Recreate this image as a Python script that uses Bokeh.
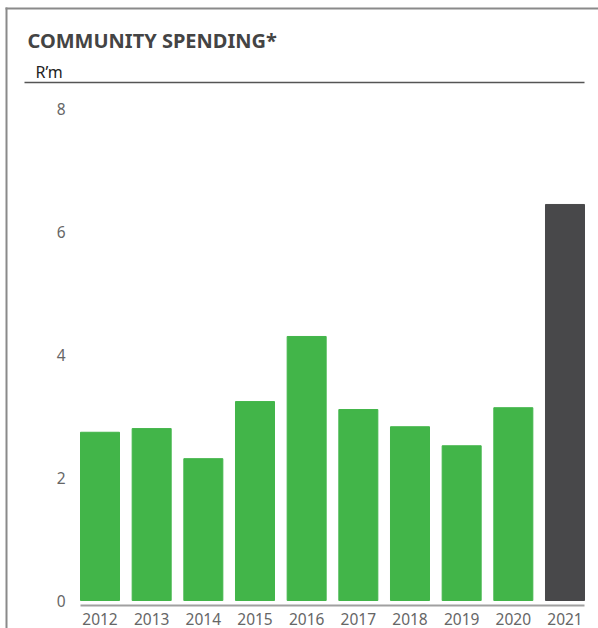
from bokeh.plotting import figure
from bokeh.models import Range1d, ColumnDataSource
from bokeh.core.properties import value
from bokeh.embed import file_html
from bokeh.resources import INLINE

# ---- data ----
years = ["2012", "2013", "2014", "2015", "2016", "2017", "2018", "2019", "2020", "2021"]
spend = [2.74, 2.80, 2.31, 3.24, 4.30, 3.11, 2.83, 2.52, 3.14, 6.45]
y_ticks = [0, 2, 4, 6, 8]
title_text = "COMMUNITY SPENDING*"
unit_text = "R\u2019m"

# ---- style ----
GREEN = "#42b549"
DARK = "#48484a"
FONT = "Noto Sans"
W, H = 598, 628

# ---- canvas geometry (pixels) -> data ranges ----
BAR_W = 0.755
n = len(years)
BARS_LEFT_PX, BARS_RIGHT_PX = 80, 584
ZERO_PX, TOP_TICK_PX = 600, 108.8
ppx = (BARS_RIGHT_PX - BARS_LEFT_PX) / (n - 1 + BAR_W)
ppy = (ZERO_PX - TOP_TICK_PX) / max(y_ticks)
x0 = -BAR_W / 2 - BARS_LEFT_PX / ppx
x1 = x0 + W / ppx
y0 = -(H - ZERO_PX) / ppy
y1 = y0 + H / ppy


def dx(px):
    return x0 + px / ppx


def dy(py):
    return y1 - py / ppy


xs = list(range(n))
colors = [GREEN] * (n - 1) + [DARK]
src = ColumnDataSource(dict(x=xs, top=spend, color=colors, year=years))

p = figure(width=W, height=H, output_backend="svg", toolbar_location=None,
           x_range=Range1d(x0, x1), y_range=Range1d(y0, y1),
           x_axis_type=None, y_axis_type=None,
           min_border=0, min_border_left=0, min_border_right=0,
           min_border_top=0, min_border_bottom=0)
p.xgrid.visible = False
p.ygrid.visible = False
p.outline_line_color = None
p.background_fill_color = "white"
p.border_fill_color = "white"

# frame lines (panel border, unit rule, baseline)
p.segment(x0=[dx(5), dx(6), dx(24)], y0=[dy(8), dy(7), dy(82)],
          x1=[dx(598), dx(6), dx(584)], y1=[dy(8), dy(628), dy(82)],
          line_color=["#8a8a8a", "#8a8a8a", "#555555"], line_width=[2, 2, 1.5])
p.segment(x0=[dx(BARS_LEFT_PX)], y0=[dy(605)], x1=[dx(BARS_RIGHT_PX)], y1=[dy(605)],
          line_color="#a0a0a0", line_width=2)

# bars
p.vbar(x="x", top="top", bottom=0, width=BAR_W, color="color", source=src)

# category labels
p.text(x="x", y=dy(618), text="year", source=src,
       text_font=value(FONT), text_font_size=value("15.5px"), text_color="#666666",
       text_align="center", text_baseline="middle")

# value-axis labels
p.text(x=[dx(65)] * len(y_ticks), y=y_ticks, text=[str(t) for t in y_ticks],
       text_font=value(FONT), text_font_size=value("15.5px"), text_color="#666666",
       text_align="right", text_baseline="middle")

# title and unit
p.text(x=[dx(27)], y=[dy(40)], text=[title_text],
       text_font=value(FONT), text_font_style="bold", text_font_size=value("20px"),
       text_color="#444444", text_align="left", text_baseline="middle")
p.text(x=[dx(35)], y=[dy(71)], text=[unit_text],
       text_font=value(FONT), text_font_size=value("16px"),
       text_color="#222222", text_align="left", text_baseline="middle")

open("out.html", "w").write(file_html(p, INLINE))
